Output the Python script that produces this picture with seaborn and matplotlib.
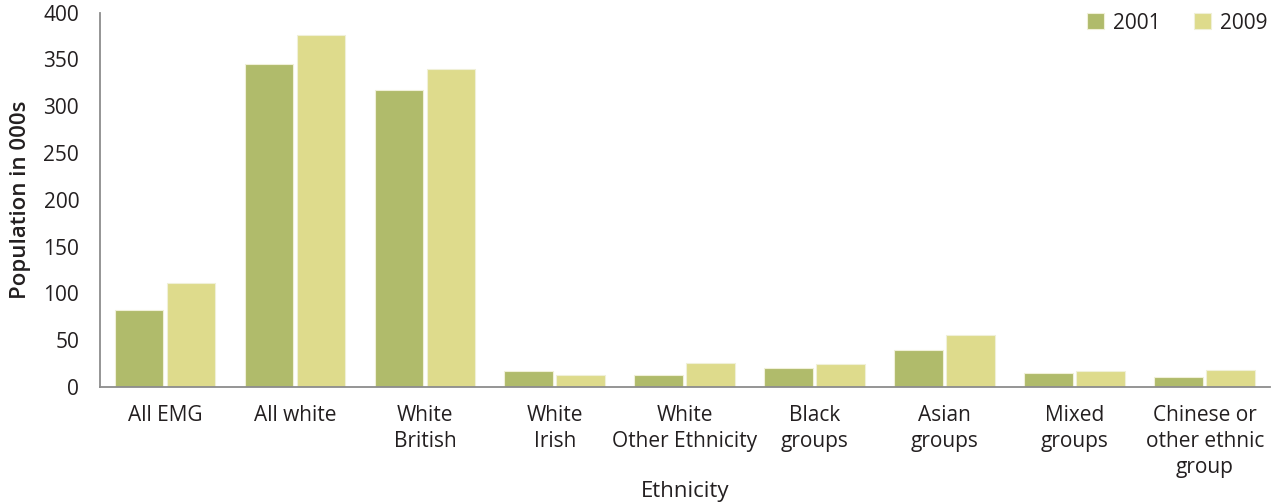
import matplotlib
matplotlib.use("Agg")
import matplotlib.pyplot as plt
from matplotlib.ticker import FixedLocator
import seaborn as sns
import pandas as pd

categories = ["All EMG", "All white", "White\nBritish", "White\nIrish",
              "White\nOther Ethnicity", "Black\ngroups", "Asian\ngroups",
              "Mixed\ngroups", "Chinese or\nother ethnic\ngroup"]
pop_2001 = [82, 345, 317, 17, 13, 20, 40, 15, 11]
pop_2009 = [111, 376, 340, 13, 26, 25, 56, 17, 18]
years = ["2001", "2009"]
y_ticks = [0, 50, 100, 150, 200, 250, 300, 350, 400]

df = pd.DataFrame({
    "Ethnicity": categories * 2,
    "Year": [years[0]] * len(categories) + [years[1]] * len(categories),
    "Population": pop_2001 + pop_2009,
})

sns.set_theme(style="white")
plt.rcParams["font.family"] = ["Open Sans", "DejaVu Sans"]

axis_grey = "#8c8c8c"
text_col = "#231f20"
palette = {"2001": "#b0bb6b", "2009": "#dedb8c"}

fig = plt.figure(figsize=(12.75, 5.03), dpi=100)
ax = fig.add_axes([0.0784, 0.2306, 0.9176, 0.7444])

sns.barplot(data=df, x="Ethnicity", y="Population", hue="Year",
            palette=palette, width=0.8, gap=0.06, ax=ax,
            edgecolor="#f0f0d8", linewidth=0.8, saturation=1)

ax.set_xlim(-0.5, len(categories) - 0.5)
ax.set_ylim(0, 400)
ax.set_yticks(y_ticks)
ax.set_yticklabels([str(v) for v in y_ticks], fontsize=15, color=text_col)
ax.tick_params(axis="y", direction="in", length=20, width=1.3,
               color=axis_grey, pad=15)

ax.set_xticks(range(len(categories)))
ax.set_xticklabels(categories, fontsize=15, color=text_col, linespacing=1.3)
ax.tick_params(axis="x", which="major", length=0, pad=13)
ax.xaxis.set_minor_locator(FixedLocator([i + 0.5 for i in range(len(categories))]))
ax.tick_params(axis="x", which="minor", direction="in", length=6,
               width=1.3, color=axis_grey)

for side in ("top", "right"):
    ax.spines[side].set_visible(False)
for side in ("left", "bottom"):
    ax.spines[side].set_color(axis_grey)
    ax.spines[side].set_linewidth(1.3)

ax.set_ylabel("Population in 000s", fontsize=16, color=text_col,
              fontweight="semibold")
ax.yaxis.set_label_coords(-0.068, 0.5)
ax.yaxis.label.set_va("center")
ax.set_xlabel("Ethnicity", fontsize=16, color=text_col, fontweight="medium")
ax.xaxis.set_label_coords(0.5, -0.28)
ax.xaxis.label.set_va("center")

leg = ax.legend(loc="upper right", bbox_to_anchor=(1.0144, 1.05), ncol=2,
                frameon=False, fontsize=15, handlelength=0.8, handleheight=0.8,
                handletextpad=0.45, columnspacing=1.6, title=None)
for t in leg.get_texts():
    t.set_color(text_col)

fig.savefig("out.png", dpi=100)
